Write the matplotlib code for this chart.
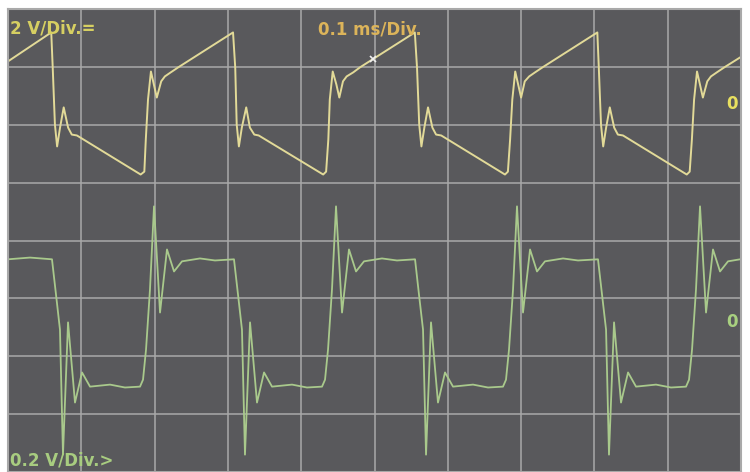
import matplotlib
matplotlib.use("Agg")
import matplotlib.pyplot as plt
import numpy as np

# ---- data (time in microseconds, voltages in volts) ----
ch1_time = [0, 59, 61, 64, 67, 71, 76, 82, 87, 94, 181, 186, 188, 191, 195, 199, 203, 209, 214, 222, 232,
            307, 310, 312, 315, 319, 325, 330, 336, 342, 430, 434, 437, 439, 443, 448, 452, 457, 462, 471, 480,
            555, 558, 561, 564, 568, 573, 579, 584, 591, 678, 682, 685, 688, 692, 696, 700, 705, 711, 719, 729,
            804, 806, 809, 812, 816, 821, 827, 832, 839, 926, 930, 933, 936, 940, 944, 948, 954, 959, 967, 977,
            999]
ch1_volt = [1.49, 2.49, 1.28, -0.69, -1.45, -0.80, -0.10, -0.80, -1.04, -1.07, -2.42, -2.32, -1.21, 0.17, 1.14, 0.69, 0.24, 0.80, 0.97, 1.11, 1.28,
            2.49, 1.28, -0.69, -1.45, -0.80, -0.10, -0.80, -1.04, -1.07, -2.42, -2.32, -1.21, 0.17, 1.14, 0.69, 0.24, 0.80, 0.97, 1.11, 1.28,
            2.49, 1.28, -0.69, -1.45, -0.80, -0.10, -0.80, -1.04, -1.07, -2.42, -2.32, -1.21, 0.17, 1.14, 0.69, 0.24, 0.80, 0.97, 1.11, 1.28,
            2.49, 1.28, -0.69, -1.45, -0.80, -0.10, -0.80, -1.04, -1.07, -2.42, -2.32, -1.21, 0.17, 1.14, 0.69, 0.24, 0.80, 0.97, 1.11, 1.28,
            1.63]

ch2_time = [0, 30, 60, 65.5, 70.9, 75.0, 81.9, 91.4, 101.0, 111.9, 139.2, 159.6, 180.1, 184.2, 188.3, 193.7, 199.2, 207.4, 216.9, 226.5, 237.4, 261.9, 282.4,
            308.3, 313.8, 319.2, 323.3, 330.2, 339.7, 349.3, 360.2, 387.5, 407.9, 428.4, 432.5, 436.6, 442.0, 447.5, 455.7, 465.2, 474.8, 485.7, 510.2, 530.7,
            555.3, 560.7, 566.2, 570.3, 577.1, 586.6, 596.2, 607.1, 634.4, 654.9, 675.3, 679.4, 683.5, 689.0, 694.4, 702.6, 712.2, 721.7, 732.6, 757.2, 777.7,
            804.9, 810.4, 815.9, 819.9, 826.8, 836.3, 845.9, 856.8, 884.1, 904.5, 925.0, 929.1, 933.2, 938.6, 944.1, 952.3, 961.8, 971.4, 982.3, 998.7]
ch2_volt = [0.215, 0.221, 0.215, 0.093, -0.028, -0.460, -0.003, -0.280, -0.176, -0.225, -0.218, -0.228, -0.225, -0.201, -0.097, 0.111, 0.398, 0.031, 0.249, 0.173, 0.208, 0.218, 0.211,
            0.215, 0.093, -0.028, -0.460, -0.003, -0.280, -0.176, -0.225, -0.218, -0.228, -0.225, -0.201, -0.097, 0.111, 0.398, 0.031, 0.249, 0.173, 0.208, 0.218, 0.211,
            0.215, 0.093, -0.028, -0.460, -0.003, -0.280, -0.176, -0.225, -0.218, -0.228, -0.225, -0.201, -0.097, 0.111, 0.398, 0.031, 0.249, 0.173, 0.208, 0.218, 0.211,
            0.215, 0.093, -0.028, -0.460, -0.003, -0.280, -0.176, -0.225, -0.218, -0.228, -0.225, -0.201, -0.097, 0.111, 0.398, 0.031, 0.249, 0.173, 0.208, 0.215]

ch1_scale = 2.0      # V/div
ch2_scale = 0.2      # V/div
ch1_zero = 6.35      # screen division of channel 1 ground
ch2_zero = 2.6       # screen division of channel 2 ground
time_per_div = 100   # us/div
trigger_time = 498
trigger_volt = 1.56

labels = {"ch1": "2 V/Div.=", "time": "0.1 ms/Div.", "ch2": "0.2 V/Div.>"}

# ---- figure ----
BG = "#59595c"
GRID = "#a9a9a9"
YEL = "#e2da98"
GRN = "#a9c98c"

fig = plt.figure(figsize=(7.5, 4.72), dpi=100)
fig.patch.set_facecolor("white")
ax = fig.add_axes([8/750, 0.0, 733/750, 463/472])
ax.set_facecolor(BG)

ax.set_xlim(0, 10 * time_per_div)
ax.set_ylim(0, 8)
ax.set_xticks(np.arange(0, 10 * time_per_div + 1, time_per_div))
ax.set_yticks(np.arange(0, 9, 1))
ax.grid(True, color=GRID, linewidth=1.1)
ax.tick_params(length=0, labelbottom=False, labelleft=False)
for s in ax.spines.values():
    s.set_color(GRID)
    s.set_linewidth(1.5)

y1 = ch1_zero + np.array(ch1_volt) / ch1_scale
y2 = ch2_zero + np.array(ch2_volt) / ch2_scale
ax.plot(ch1_time, y1, color=YEL, linewidth=1.4, solid_joinstyle="round")
ax.plot(ch2_time, y2, color=GRN, linewidth=1.3, solid_joinstyle="round")
ax.plot([trigger_time], [ch1_zero + trigger_volt / ch1_scale], marker="x", color="#eeeeee",
        markersize=5, markeredgewidth=1.2)

FS = 12
ax.text(0.003, 0.978, labels["ch1"], transform=ax.transAxes, color="#d6cf62",
        fontsize=FS, fontweight="bold", ha="left", va="top")
ax.text(0.423, 0.975, labels["time"], transform=ax.transAxes, color="#dcb45a",
        fontsize=FS, fontweight="bold", ha="left", va="top")
ax.text(0.003, 0.006, labels["ch2"], transform=ax.transAxes, color="#a8cc80",
        fontsize=FS, fontweight="bold", ha="left", va="bottom")
yax = ax.get_yaxis_transform()
ax.text(0.988, ch1_zero, "0", color="#e8e060", fontsize=FS, fontweight="bold",
        ha="center", va="center", transform=yax)
ax.text(0.988, ch2_zero, "0", color="#a8d080", fontsize=FS, fontweight="bold",
        ha="center", va="center", transform=yax)

fig.savefig("out.png", dpi=100, facecolor=fig.get_facecolor())
